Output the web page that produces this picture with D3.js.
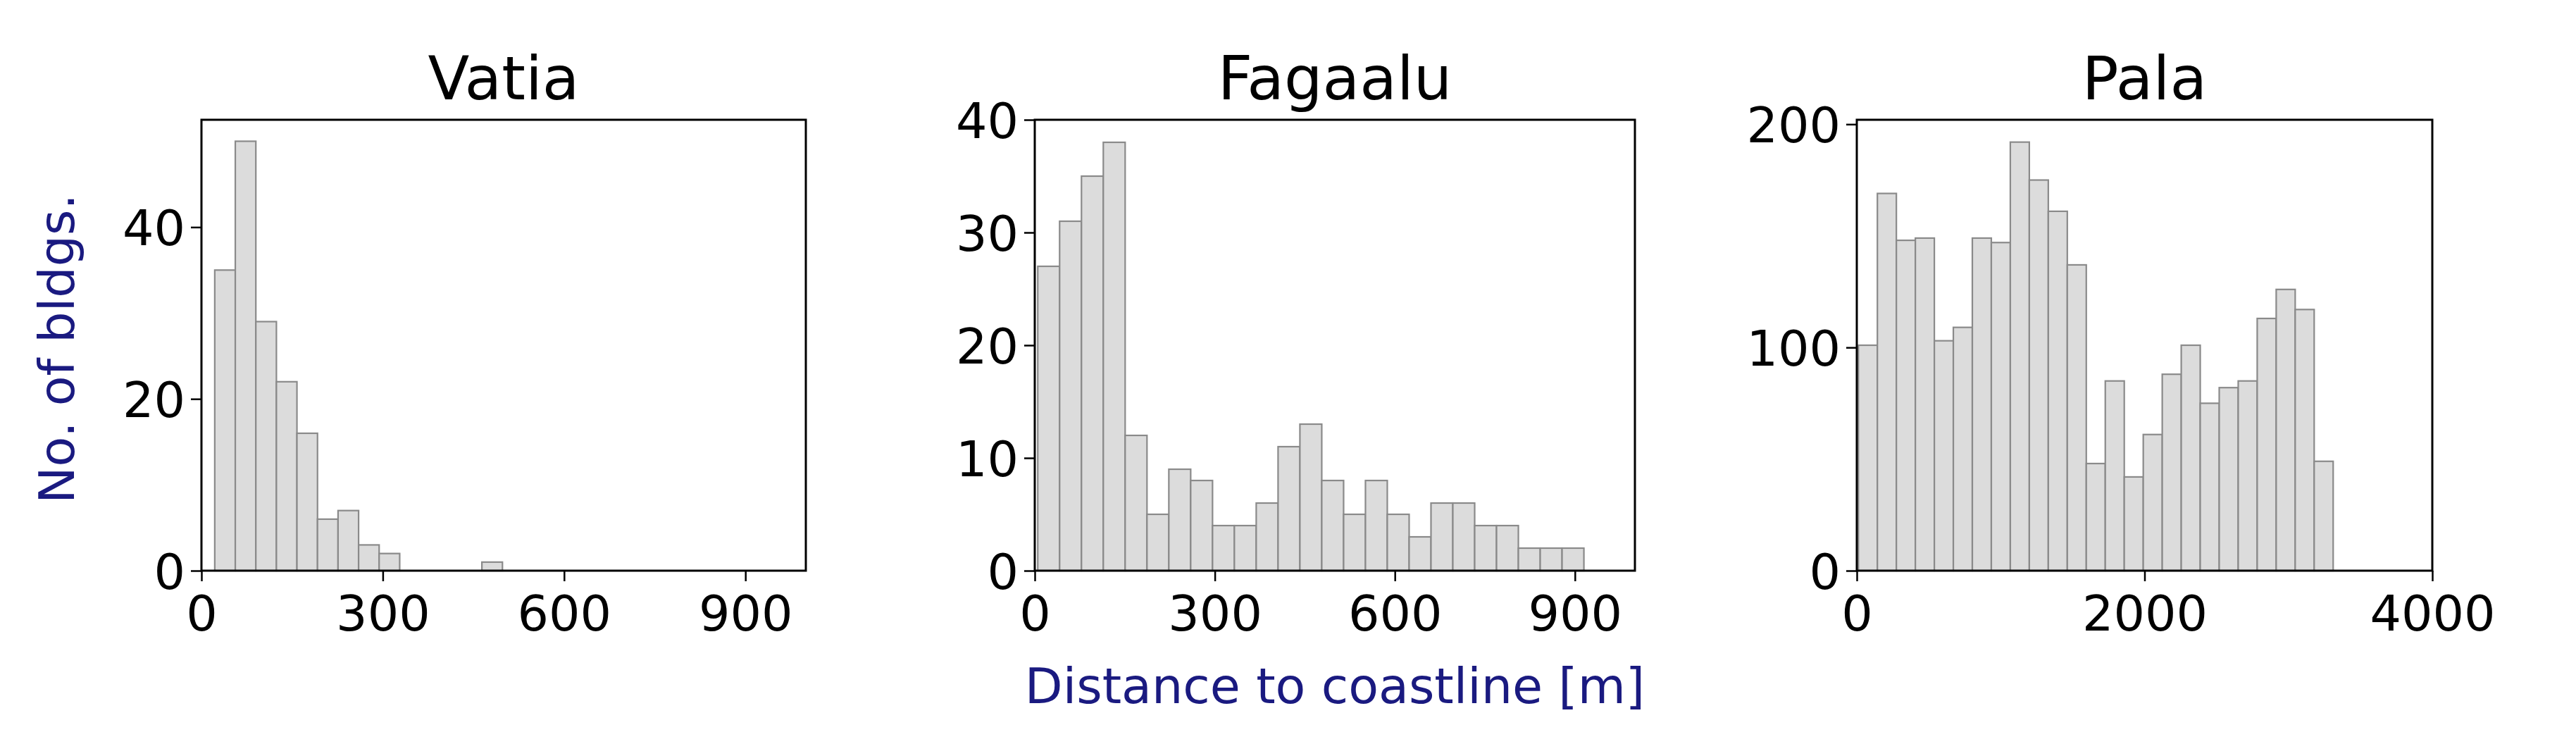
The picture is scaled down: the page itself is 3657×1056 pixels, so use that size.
<!DOCTYPE html>
<html><head><meta charset="utf-8">
<script src="https://cdn.jsdelivr.net/npm/d3@7"></script>
<style>body{margin:0;background:#fff}</style></head>
<body><svg id="c" width="3657" height="1056"></svg>
<script>
const titles = ["Vatia", "Fagaalu", "Pala"];
const vatiaCounts = [35,50,29,22,16,6,7,3,2,0,0,0,0,1];
const fagaaluCounts = [27,31,35,38,12,5,9,8,4,4,6,11,13,8,5,8,5,3,6,6,4,4,2,2,2];
const palaCounts = [101,169,148,149,103,109,149,147,192,175,161,137,48,85,42,61,88,101,75,82,85,113,126,117,49];
const binStarts = [22, 5, 11];
const binWidths = [34, 36.4, 132];
const xMax = [1000, 1000, 4000];
const yMax = [52.5, 40, 202];
const xTicks = [[0,300,600,900],[0,300,600,900],[0,2000,4000]];
const yTicks = [[0,20,40],[0,10,20,30,40],[0,100,200]];
const yLabel = "No. of bldgs.";
const xLabel = "Distance to coastline [m]";

const counts = [vatiaCounts, fagaaluCounts, palaCounts];
const panels = [[286,1144],[1469,2321],[2636,3453]];
const plotTop = 170, plotBottom = 810;
const svg = d3.select("#c");
const font = "DejaVu Sans";
counts.forEach((cs, i) => {
  const [l, r] = panels[i];
  const x = d3.scaleLinear().domain([0, xMax[i]]).range([l, r]);
  const y = d3.scaleLinear().domain([0, yMax[i]]).range([plotBottom, plotTop]);
  const g = svg.append("g");
  g.selectAll("rect").data(cs).join("rect")
    .attr("x", (d, k) => x(binStarts[i] + k * binWidths[i]))
    .attr("width", x(binWidths[i]) - x(0))
    .attr("y", d => y(d)).attr("height", d => y(0) - y(d))
    .attr("fill", "#dcdcdc").attr("stroke", "#8a8a8a").attr("stroke-width", 2.2);
  const ax = g.append("g").attr("transform", `translate(0,${plotBottom})`)
    .call(d3.axisBottom(x).tickValues(xTicks[i]).tickSize(15).tickPadding(10).tickFormat(d3.format("d")));
  const ay = g.append("g").attr("transform", `translate(${l},0)`)
    .call(d3.axisLeft(y).tickValues(yTicks[i]).tickSize(15).tickPadding(8).tickFormat(d3.format("d")));
  [ax, ay].forEach(a => {
    a.select(".domain").remove();
    a.selectAll("line").attr("stroke", "#000").attr("stroke-width", 2.5);
    a.selectAll("text").attr("font-family", font).attr("font-size", 70).attr("fill", "#000");
  });
  ax.selectAll("text").attr("dy", "0.85em");
  ay.selectAll("text").attr("dy", "0.36em");
  g.append("rect").attr("x", l).attr("y", plotTop).attr("width", r - l).attr("height", plotBottom - plotTop)
    .attr("fill", "none").attr("stroke", "#000").attr("stroke-width", 3);
  g.append("text").attr("x", (l + r) / 2).attr("y", 141).attr("text-anchor", "middle")
    .attr("font-family", font).attr("font-size", 86).attr("fill", "#000").text(titles[i]);
  if (i === 1) {
    g.append("text").attr("x", (l + r) / 2).attr("y", 998).attr("text-anchor", "middle")
      .attr("font-family", font).attr("font-size", 70).attr("fill", "#1a1a80").text(xLabel);
  }
});
svg.append("text").attr("transform", "translate(105,495) rotate(-90)").attr("text-anchor", "middle")
  .attr("font-family", font).attr("font-size", 70).attr("fill", "#1a1a80").text(yLabel);
</script></body></html>
